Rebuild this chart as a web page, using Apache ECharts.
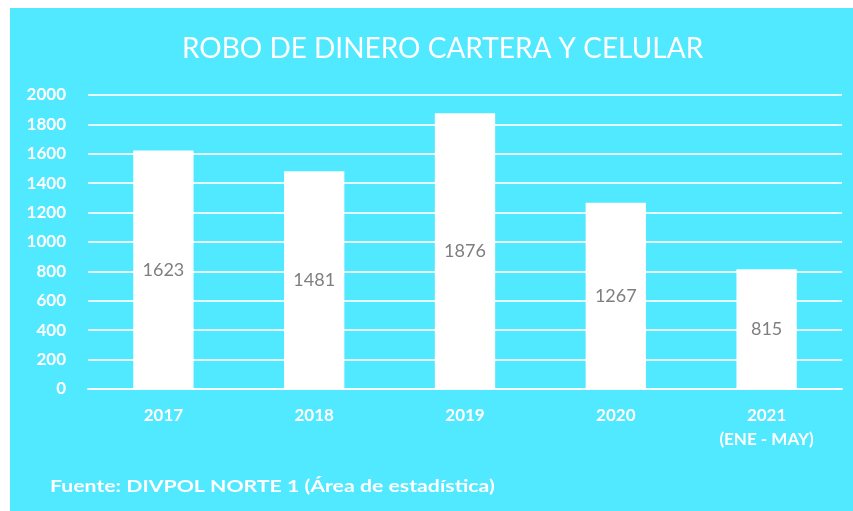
<!DOCTYPE html>
<html>
<head>
<meta charset="utf-8">
<script src="https://cdn.jsdelivr.net/npm/echarts@6/dist/echarts.min.js"></script>
<style>
  html, body { margin: 0; padding: 0; background: #ffffff; }
  #chart { width: 853px; height: 511px; }
</style>
</head>
<body>
<div id="chart"></div>
<script>
// Robberies of money, wallets and phones per year
const categories = ['2017', '2018', '2019', '2020', '2021\n(ENE - MAY)'];
const robos = [1623, 1481, 1876, 1267, 815];
const yTicks = { min: 0, max: 2000, interval: 200 };

const titleText = 'ROBO DE DINERO CARTERA Y CELULAR';
const sourceText = 'Fuente: DIVPOL NORTE 1 (Área de estadística)';

const PANEL = '#50e9ff';
const GRIDLINE = 'rgba(255,255,255,0.85)';
const FONT = 'Lato, "Open Sans", sans-serif';

const chart = echarts.init(document.getElementById('chart'));
chart.setOption({
  backgroundColor: '#ffffff',
  animation: false,
  graphic: [
    {
      type: 'rect', left: 10, top: 8, z: -10, silent: true,
      shape: { width: 843, height: 503 },
      style: { fill: PANEL }
    },
    {
      type: 'text', x: 50, y: 478, scaleX: 1.25, z: 10,
      style: { text: sourceText, fill: '#ffffff', font: 'bold 17px ' + FONT }
    }
  ],
  title: {
    text: titleText,
    left: 177,
    top: 30,
    textStyle: { color: '#ffffff', fontSize: 28, fontWeight: 'normal', fontFamily: FONT }
  },
  grid: { left: 88, right: 11, top: 95, bottom: 122 },
  xAxis: {
    type: 'category',
    data: categories,
    axisLine: { show: true, lineStyle: { color: GRIDLINE, width: 2 } },
    axisTick: { show: false },
    axisLabel: {
      color: '#ffffff', fontSize: 17, fontWeight: 'bold', fontFamily: FONT,
      lineHeight: 24, margin: 15
    }
  },
  yAxis: {
    type: 'value',
    min: yTicks.min, max: yTicks.max, interval: yTicks.interval,
    axisLine: { show: false },
    axisTick: { show: false },
    axisLabel: {
      color: '#ffffff', fontSize: 17, fontWeight: 'bold', fontFamily: FONT, margin: 22,
      formatter: (v) => String(v)
    },
    splitLine: { lineStyle: { color: GRIDLINE, width: 2 } }
  },
  series: [{
    type: 'bar',
    data: robos,
    barCategoryGap: '60%',
    itemStyle: { color: '#ffffff' },
    label: {
      show: true, position: 'inside',
      color: '#7f7f7f', fontSize: 18, fontFamily: FONT
    }
  }]
});
</script>
</body>
</html>
